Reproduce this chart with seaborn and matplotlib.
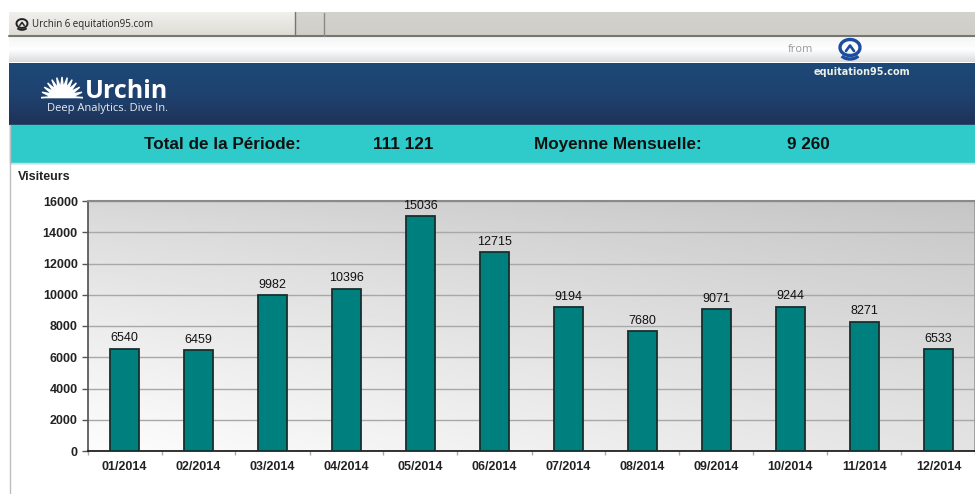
import numpy as np
import pandas as pd
import seaborn as sns
import matplotlib.pyplot as plt
from matplotlib.colors import LinearSegmentedColormap
from matplotlib.patches import Rectangle, Polygon, Arc

months = ['01/2014', '02/2014', '03/2014', '04/2014', '05/2014', '06/2014',
          '07/2014', '08/2014', '09/2014', '10/2014', '11/2014', '12/2014']
visitors = [6540, 6459, 9982, 10396, 15036, 12715, 9194, 7680, 9071, 9244, 8271, 6533]
y_ticks = [0, 2000, 4000, 6000, 8000, 10000, 12000, 14000, 16000]

W, H = 975, 494

sns.set_theme(style='white')
plt.rcParams['font.family'] = ['Liberation Sans', 'DejaVu Sans']

fig = plt.figure(figsize=(W / 100, H / 100), dpi=100)

# page furniture in pixel coordinates
bg = fig.add_axes([0, 0, 1, 1])
bg.set_xlim(0, W)
bg.set_ylim(H, 0)
bg.axis('off')


def vgrad(x0, y0, x1, y1, colors):
    cm = LinearSegmentedColormap.from_list('g', colors)
    bg.imshow(np.linspace(0, 1, 64)[:, None], cmap=cm, aspect='auto', vmin=0, vmax=1,
              extent=(x0, x1, y1, y0), zorder=1)


def site_icon(cx, cy, r, color, lw):
    # round emblem with a bar under it
    bg.add_patch(Arc((cx, cy), 2 * r, 1.6 * r, theta1=0, theta2=360, color=color, lw=lw, zorder=4))
    bg.add_patch(Arc((cx, cy + 0.55 * r), 1.9 * r, 1.2 * r, theta1=20, theta2=160, color=color,
                     lw=lw, zorder=4))
    bg.plot([cx - 0.4 * r, cx, cx + 0.4 * r], [cy + 0.35 * r, cy - 0.2 * r, cy + 0.35 * r],
            color=color, lw=lw * 0.8, zorder=4)


vgrad(9, 12, 975, 36, ['#d3d2cc', '#cfcec8'])
vgrad(9, 12, 295, 36, ['#f1f0ec', '#dedcd6'])
vgrad(297, 13, 324, 35, ['#d6d5cf', '#cfcec8'])
bg.plot([9, 975], [36, 36], color='#77766f', lw=1.5, zorder=2)
bg.plot([295, 295], [12, 36], color='#77766f', lw=1, zorder=2)
bg.plot([324, 324], [13, 36], color='#8a8983', lw=1, zorder=2)
vgrad(9, 37, 975, 62, ['#f4f5f6', '#ffffff', '#dadbdd'])
vgrad(9, 64, 975, 125, ['#1d4877', '#1f4270', '#1e3358'])
bg.add_patch(Rectangle((10, 125), 965, 38, color='#2fcbcb', zorder=2))
bg.plot([10, 975], [163.5, 163.5], color='#d8d8d8', lw=1, zorder=3)
bg.plot([9.5, 9.5], [125, 494], color='#bdbdbd', lw=1, zorder=3)

site_icon(22, 23.5, 5.5, '#222222', 1.4)
site_icon(850, 47.5, 10, '#1c4ea0', 2.4)

# half sun of the logo
ang = np.linspace(np.pi * 0.02, np.pi * 0.98, 25)
rad = np.where(np.arange(25) % 2 == 0, 21, 11)
sun_x = 62 + rad * np.cos(ang)
sun_y = 99 - rad * np.sin(ang) * 1.05
bg.add_patch(Polygon(np.column_stack([sun_x, sun_y]), closed=True, color='white', zorder=4))

bg.text(32, 24.5, 'Urchin 6 equitation95.com', fontsize=7, color='#222222', va='center',
        family='Open Sans', zorder=4)
bg.text(788, 49, 'from', fontsize=8, color='#999999', va='center', family='Open Sans', zorder=4)
bg.text(814, 72, 'equitation95.com', fontsize=7, color='#e8eee8', weight='bold', va='center',
        family='DejaVu Sans', zorder=4)
bg.text(85, 91, 'Urchin', fontsize=18, color='white', weight='bold', va='center',
        family='Open Sans', zorder=4)
bg.text(47, 108, 'Deep Analytics. Dive In.', fontsize=8, color='#e8eef4', va='center',
        family='Open Sans', zorder=5)

for x, s in [(144, 'Total de la Période:'), (373, '111 121'),
             (534, 'Moyenne Mensuelle:'), (787, '9 260')]:
    bg.text(x, 144.5, s, fontsize=12.3, weight='bold', color='#111111', va='center', zorder=4)
bg.text(18, 177, 'Visiteurs', fontsize=9, weight='bold', color='#222222', va='center', zorder=4)

# chart
ax = fig.add_axes([87.5 / W, 1 - 451 / H, (975.5 - 87.5) / W, 250 / H])
df = pd.DataFrame({'month': months, 'visitors': visitors})
sns.barplot(data=df, x='month', y='visitors', color='#007f7f', saturation=1, width=0.4,
            edgecolor='#17302f', linewidth=1.3, ax=ax, zorder=3)

# background shading: dark top right, almost white bottom left
gx, gy = np.meshgrid(np.linspace(0, 1, 200), np.linspace(0, 1, 100))
top = 0.84 - 0.07 * gx
bottom = 0.99 - 0.10 * gx
shade = top + (bottom - top) * gy ** 0.8
ax.imshow(shade, cmap='gray', extent=(-0.5, 11.5, 0, 16000), aspect='auto', origin='upper',
          vmin=0, vmax=1, zorder=0)

ax.set_xlim(-0.5, 11.5)
ax.set_ylim(0, 16000)
ax.set_yticks(y_ticks)
ax.yaxis.grid(True, color='#a8a8a8', lw=1, zorder=1)
ax.set_axisbelow(True)
ax.set_xlabel('')
ax.set_ylabel('')
ax.set_xticks(np.arange(-0.5, 11.6, 1), minor=True)
ax.tick_params(axis='x', which='minor', length=3, color='#aaaaaa', width=1, bottom=True)
ax.tick_params(axis='x', which='major', length=0, pad=7, labelsize=9, labelcolor='#222222')
ax.tick_params(axis='y', length=4, color='#555555', width=1, pad=3, left=True, labelsize=9,
               labelcolor='#222222')
for lab in ax.get_xticklabels() + ax.get_yticklabels():
    lab.set_fontweight('bold')

ax.spines['top'].set_color('#8a8a8a')
ax.spines['top'].set_linewidth(1.5)
ax.spines['right'].set_color('#9a9a9a')
ax.spines['left'].set_color('#555555')
ax.spines['bottom'].set_color('#111111')
ax.spines['bottom'].set_linewidth(1.2)

for i, v in enumerate(visitors):
    ax.text(i, v + 280, str(v), ha='center', va='bottom', fontsize=9, color='#111111',
            clip_on=False, zorder=5)

fig.savefig('out.png', dpi=100)
